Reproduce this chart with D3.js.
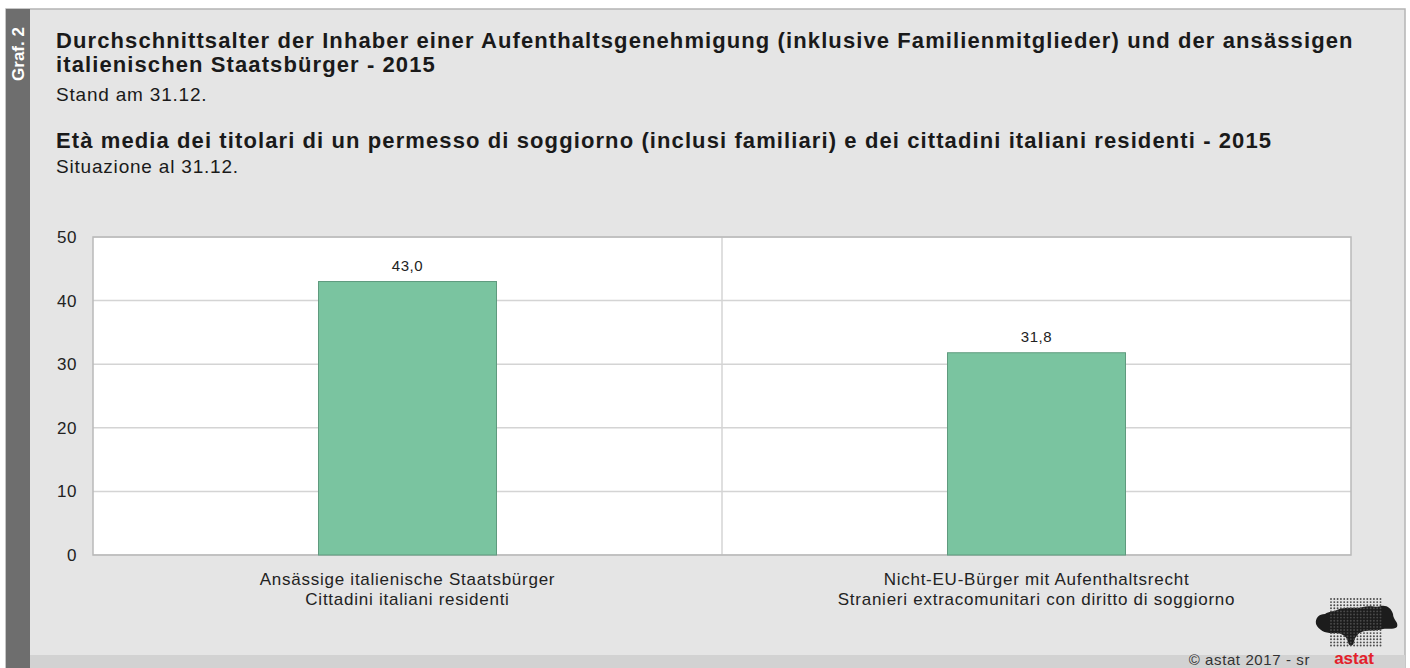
<!DOCTYPE html>
<html>
<head>
<meta charset="utf-8">
<script src="https://cdn.jsdelivr.net/npm/d3@7"></script>
<style>
  body { margin: 0; background: #fff; }
  text { font-family: "Liberation Sans", Arial, sans-serif; }
</style>
</head>
<body>
<div id="chart-area"></div>
<script>
// Data
var categoriesDe = ['Ansässige italienische Staatsbürger', 'Nicht-EU-Bürger mit Aufenthaltsrecht'];
var categoriesIt = ['Cittadini italiani residenti', 'Stranieri extracomunitari con diritto di soggiorno'];
var values = [43.0, 31.8];
var yTicks = [0, 10, 20, 30, 40, 50];

var svgWidth = 1410, svgHeight = 668;
var margin = {left: 93, right: 59, top: 237, bottom: 113};
var width = svgWidth - margin.left - margin.right;
var height = svgHeight - margin.top - margin.bottom;

var svg = d3.select('#chart-area')
            .append('svg')
            .attr('width', svgWidth)
            .attr('height', svgHeight);

// panel background
svg.append('rect').attr('x', 6).attr('y', 9).attr('width', 1399).attr('height', 660)
   .attr('fill', '#e5e5e5').attr('stroke', '#b4b4b4').attr('stroke-width', 1.5);
svg.append('rect').attr('x', 30).attr('y', 655).attr('width', 1375).attr('height', 14)
   .attr('fill', '#d2d2d2');
svg.append('rect').attr('x', 6).attr('y', 9).attr('width', 24).attr('height', 660)
   .attr('fill', '#6e6e6e');

svg.append('text')
   .attr('transform', 'translate(24,54) rotate(-90)')
   .attr('text-anchor', 'middle')
   .attr('fill', '#fff')
   .attr('font-weight', 'bold')
   .attr('font-size', 17)
   .text('Graf. 2');

// titles
var titles = [
  {t: 'Durchschnittsalter der Inhaber einer Aufenthaltsgenehmigung (inklusive Familienmitglieder) und der ansässigen', y: 48, b: true},
  {t: 'italienischen Staatsbürger - 2015', y: 72, b: true},
  {t: 'Stand am 31.12.', y: 101, b: false},
  {t: 'Età media dei titolari di un permesso di soggiorno (inclusi familiari) e dei cittadini italiani residenti - 2015', y: 148, b: true},
  {t: 'Situazione al 31.12.', y: 173, b: false}
];
svg.selectAll('.title').data(titles).enter()
   .append('text')
   .attr('class', 'title')
   .attr('x', 56)
   .attr('y', function(d){ return d.y; })
   .attr('font-size', function(d){ return d.b ? 22 : 19; })
   .attr('letter-spacing', function(d){ return d.b ? 1.1 : 0.8; })
   .attr('font-weight', function(d){ return d.b ? 'bold' : 'normal'; })
   .attr('fill', '#1a1a1a')
   .text(function(d){ return d.t; });

var g = svg.append('g')
           .attr('transform', 'translate(' + margin.left + ',' + margin.top + ')');

var xScale = d3.scaleBand()
               .domain(categoriesDe)
               .range([0, width])
               .paddingInner(0)
               .paddingOuter(0);

var yScale = d3.scaleLinear()
               .domain([0, 50])
               .range([height, 0]);

g.append('rect').attr('width', width).attr('height', height).attr('fill', '#fff');

// gridlines
g.selectAll('.grid').data(yTicks).enter()
 .append('line')
 .attr('x1', 0).attr('x2', width)
 .attr('y1', function(d){ return yScale(d); })
 .attr('y2', function(d){ return yScale(d); })
 .attr('stroke', '#d4d4d4').attr('stroke-width', 1.5);

g.append('line')
 .attr('x1', width / 2).attr('x2', width / 2)
 .attr('y1', 0).attr('y2', height)
 .attr('stroke', '#d4d4d4').attr('stroke-width', 1.5);

g.append('rect').attr('width', width).attr('height', height)
 .attr('fill', 'none').attr('stroke', '#b9b9b9').attr('stroke-width', 1.5);

var yAxis = d3.axisLeft(yScale).tickValues(yTicks).tickSize(0).tickPadding(16);
g.append('g').call(yAxis)
 .call(function(a){ a.select('.domain').remove(); })
 .selectAll('text')
 .attr('font-family', '"Liberation Sans", Arial, sans-serif')
 .attr('font-size', 17)
 .attr('letter-spacing', 0.5)
 .attr('fill', '#222');

// bars
var barW = xScale.bandwidth() * 0.283;
g.selectAll('.bar').data(values).enter()
 .append('rect')
 .attr('class', 'bar')
 .attr('x', function(d, i){ return xScale(categoriesDe[i]) + xScale.bandwidth() / 2 - barW / 2; })
 .attr('y', function(d){ return yScale(d); })
 .attr('width', barW)
 .attr('height', function(d){ return height - yScale(d); })
 .attr('fill', '#7ac4a0')
 .attr('stroke', '#5f9a7e')
 .attr('stroke-width', 1);

g.selectAll('.val').data(values).enter()
 .append('text')
 .attr('x', function(d, i){ return xScale(categoriesDe[i]) + xScale.bandwidth() / 2; })
 .attr('y', function(d){ return yScale(d) - 11; })
 .attr('text-anchor', 'middle')
 .attr('font-size', 15)
 .attr('letter-spacing', 0.6)
 .attr('fill', '#222')
 .text(function(d){ return d3.format('.1f')(d).replace('.', ','); });

// category labels
categoriesDe.forEach(function(c, i){
  var cx = xScale(c) + xScale.bandwidth() / 2;
  g.append('text').attr('x', cx).attr('y', height + 30)
   .attr('text-anchor', 'middle').attr('font-size', 17).attr('letter-spacing', 0.75)
   .attr('fill', '#222').text(c);
  g.append('text').attr('x', cx).attr('y', height + 50)
   .attr('text-anchor', 'middle').attr('font-size', 17).attr('letter-spacing', 0.75)
   .attr('fill', '#222').text(categoriesIt[i]);
});

// footer
svg.append('text').attr('x', 1310).attr('y', 665).attr('text-anchor', 'end')
   .attr('font-size', 15).attr('letter-spacing', 0.6).attr('fill', '#333').text('©  astat 2017 - sr');
svg.append('text').attr('x', 1354).attr('y', 664).attr('text-anchor', 'middle')
   .attr('font-size', 17).attr('font-weight', 'bold').attr('fill', '#e3202a').text('astat');

// logo (dotted map)
var logo = svg.append('g').attr('transform', 'translate(1315,598)');
var blob = 'M1,26 C0,20 4,16 10,16 C14,13 18,14 22,12 C30,8 40,11 48,9 C56,7 62,10 66,8 C72,7 76,10 78,16 C78,22 84,24 82,29 C78,32 72,30 68,31 C62,33 56,32 50,33 C44,34 40,38 39,44 C38,49 34,49 33,44 C32,38 26,35 20,35 C12,36 4,33 1,26 Z';
logo.append('path').attr('d', blob).attr('fill', '#1c1c1c');
for (var r = 0; r < 16; r++) {
  for (var c = 0; c < 16; c++) {
    logo.append('circle').attr('cx', 16 + c * 3.3).attr('cy', 1 + r * 3.1)
        .attr('r', 0.95).attr('fill', '#4a4a4a');
  }
}
</script>
</body>
</html>
